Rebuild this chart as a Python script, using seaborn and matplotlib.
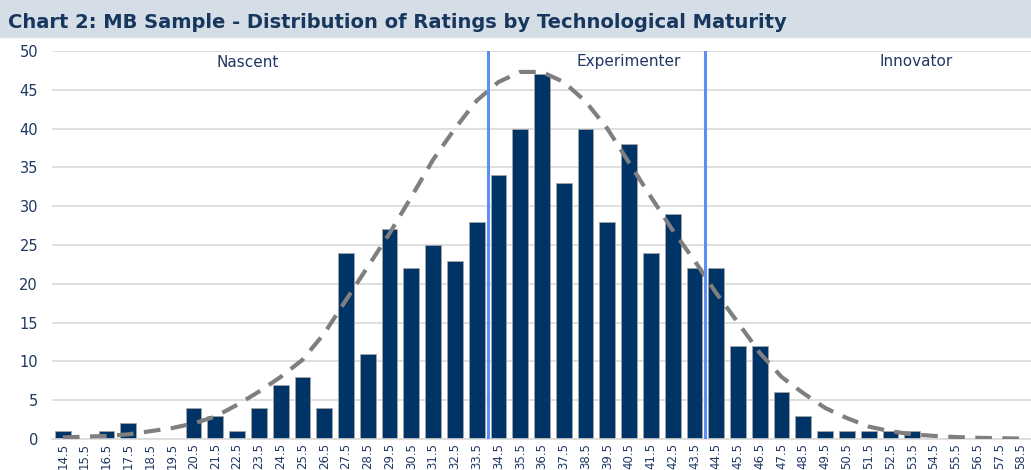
import matplotlib
matplotlib.use("Agg")
import matplotlib.pyplot as plt
import seaborn as sns
import pandas as pd
from matplotlib.patches import Rectangle

# ratings buckets 14.5 .. 58.5
ratings = ["14.5", "15.5", "16.5", "17.5", "18.5", "19.5", "20.5", "21.5", "22.5", "23.5",
           "24.5", "25.5", "26.5", "27.5", "28.5", "29.5", "30.5", "31.5", "32.5", "33.5",
           "34.5", "35.5", "36.5", "37.5", "38.5", "39.5", "40.5", "41.5", "42.5", "43.5",
           "44.5", "45.5", "46.5", "47.5", "48.5", "49.5", "50.5", "51.5", "52.5", "53.5",
           "54.5", "55.5", "56.5", "57.5", "58.5"]
counts = [1, 0, 1, 2, 0, 0, 4, 3, 1, 4,
          7, 8, 4, 24, 11, 27, 22, 25, 23, 28,
          34, 40, 47, 33, 40, 28, 38, 24, 29, 22,
          22, 12, 12, 6, 3, 1, 1, 1, 1, 1,
          0, 0, 0, 0, 0]
# dashed fitted curve
curve = [0.2, 0.3, 0.4, 0.6, 1.0, 1.4, 2.0, 2.9, 4.4, 6.1,
         8.0, 10.2, 13.6, 17.9, 22.2, 26.5, 31.2, 36.0, 40.0, 43.6,
         46.0, 47.3, 47.3, 46.0, 43.5, 40.0, 35.6, 31.2, 26.9, 23.0,
         18.8, 15.0, 11.1, 8.0, 5.9, 4.0, 2.7, 1.6, 1.0, 0.6,
         0.4, 0.25, 0.15, 0.1, 0.05]
zones = ["Nascent", "Experimenter", "Innovator"]

df = pd.DataFrame({"rating": ratings, "count": counts, "curve": curve})

navy = "#1F3864"
sns.set_style("white")
plt.rcParams["font.family"] = ["DejaVu Sans"]

fig = plt.figure(figsize=(10.31, 4.70), dpi=100)
ax = fig.add_axes([52 / 1031, 1 - 439 / 470, 980 / 1031, (439 - 51) / 470])

# title band
fig.patches.append(Rectangle((0, 1 - 37 / 470), 1, 37 / 470, transform=fig.transFigure,
                             color="#D5DEE7", zorder=0))
fig.text(8 / 1031, 1 - 22 / 470, "Chart 2: MB Sample - Distribution of Ratings by Technological Maturity",
         fontsize=14, fontweight="bold", color="#17375E", va="center", ha="left")

ax.yaxis.grid(True, color="#D9D9D9", linewidth=1.2)
ax.set_axisbelow(True)

sns.barplot(data=df, x="rating", y="count", color="#003366", saturation=1,
            width=0.72, edgecolor="#A6A6A6", linewidth=0.6, ax=ax, zorder=2)
sns.pointplot(data=df, x="rating", y="curve", color="#7F7F7F", markers="",
              linestyles="--", errorbar=None, ax=ax, zorder=3)
for line in ax.lines:
    line.set_linewidth(3)
    line.set_dashes((4, 2.5))

ax.axvline(19.5, ymin=0, ymax=1, color="#5B8FF5", linewidth=2.2, zorder=4)
ax.axvline(29.5, ymin=0, ymax=1, color="#5B8FF5", linewidth=2.2, zorder=4)

ax.text(8.5, 48.5, zones[0], ha="center", va="center", fontsize=11, color=navy)
ax.text(26.0, 48.7, zones[1], ha="center", va="center", fontsize=11, color=navy)
ax.text(39.2, 48.7, zones[2], ha="center", va="center", fontsize=11, color=navy)

ax.set_ylim(0, 50)
ax.set_xlim(-0.5, 44.5)
ax.set_yticks(range(0, 51, 5))
ax.set_xlabel("")
ax.set_ylabel("")
ax.tick_params(axis="y", labelsize=10.5, labelcolor=navy, length=0, pad=10)
ax.tick_params(axis="x", labelsize=8.5, labelcolor=navy, length=0, pad=3, rotation=90)
for s in ["top", "right", "left"]:
    ax.spines[s].set_visible(False)
ax.spines["bottom"].set_color("#D9D9D9")
ax.spines["bottom"].set_linewidth(1.2)

fig.savefig("out.png", dpi=100)
